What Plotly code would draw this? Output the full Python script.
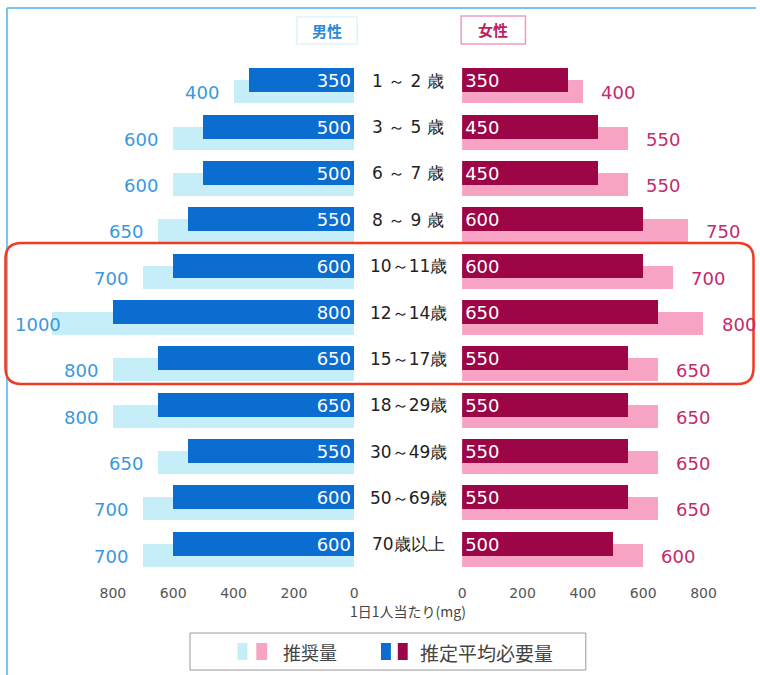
import plotly.graph_objects as go

ages = ["1 ～ 2 歳", "3 ～ 5 歳", "6 ～ 7 歳", "8 ～ 9 歳", "10～11歳", "12～14歳",
        "15～17歳", "18～29歳", "30～49歳", "50～69歳", "70歳以上"]
male_rec = [400, 600, 600, 650, 700, 1000, 800, 800, 650, 700, 700]
male_ear = [350, 500, 500, 550, 600, 800, 650, 650, 550, 600, 600]
female_rec = [400, 550, 550, 750, 700, 800, 650, 650, 650, 650, 600]
female_ear = [350, 450, 450, 600, 600, 650, 550, 550, 550, 550, 500]
tick_vals = [0, 200, 400, 600, 800]

W, H = 760, 675
MT, MB = 58, 98
PH = H - MT - MB
PX_PER = 0.305
L0 = 354
R0 = 463

C_LBLUE = "#c6eef8"
C_DBLUE = "#0a6dcf"
C_PINK = "#f7a3c4"
C_CRIM = "#9c0646"
C_TXT_M = "#3a98e0"
C_TXT_F = "#c42a6c"
FONT = "DejaVu Sans"
JFONT = "Noto Sans CJK JP"


def px(x):
    return x / W


def py(y):
    return (H - MB - y) / PH


fig = go.Figure()

common_light = dict(orientation="h", offset=-0.12, width=0.5, hoverinfo="skip", showlegend=False)
common_dark = dict(orientation="h", offset=-0.38, width=0.52, showlegend=False,
                   textposition="inside", insidetextanchor="start", constraintext="none",
                   textfont=dict(color="white", size=18, family=FONT))

fig.add_trace(go.Bar(x=male_rec, y=ages, marker=dict(color=C_LBLUE, line=dict(width=0)),
                     xaxis="x", yaxis="y", name="推奨量", **common_light))
fig.add_trace(go.Bar(x=male_ear, y=ages, marker=dict(color=C_DBLUE, line=dict(width=0)),
                     text=[str(v) for v in male_ear], xaxis="x", yaxis="y",
                     name="推定平均必要量", **common_dark))
fig.add_trace(go.Bar(x=female_rec, y=ages, marker=dict(color=C_PINK, line=dict(width=0)),
                     xaxis="x2", yaxis="y", name="推奨量", **common_light))
fig.add_trace(go.Bar(x=female_ear, y=ages, marker=dict(color=C_CRIM, line=dict(width=0)),
                     text=[str(v) for v in female_ear], xaxis="x2", yaxis="y",
                     name="推定平均必要量", **common_dark))

annotations = []
for i, a in enumerate(ages):
    annotations.append(dict(x=px((L0 + R0) / 2), xref="paper", y=a, yref="y", yshift=5,
                            text=a, showarrow=False, xanchor="center",
                            font=dict(size=17, color="#222222", family=FONT)))
    label = str(male_rec[i])
    lw = len(label) * 11.5
    right_edge = L0 - male_rec[i] * PX_PER - 13
    if right_edge - lw < 8:
        annotations.append(dict(x=px(9), xref="paper", y=a, yref="y", yshift=-7,
                                text=label, showarrow=False, xanchor="left",
                                font=dict(size=18, color=C_TXT_M, family=FONT)))
    else:
        annotations.append(dict(x=male_rec[i], xref="x", y=a, yref="y", yshift=-7, xshift=-13,
                                text=label, showarrow=False, xanchor="right",
                                font=dict(size=18, color=C_TXT_M, family=FONT)))
    annotations.append(dict(x=female_rec[i], xref="x2", y=a, yref="y", yshift=-7, xshift=16,
                            text=str(female_rec[i]), showarrow=False, xanchor="left",
                            font=dict(size=18, color=C_TXT_F, family=FONT)))

annotations.append(dict(x=px((L0 + R0) / 2), xref="paper", y=py(611), yref="paper",
                        text="1日1人当たり(mg)", showarrow=False, xanchor="center", yanchor="middle",
                        font=dict(size=14, color="#444444", family=JFONT)))
# headers
annotations.append(dict(x=px(326.5), xref="paper", y=py(30.5), yref="paper", text="<b>男性</b>",
                        showarrow=False, yanchor="middle",
                        font=dict(size=15, color="#2a8ad8", family=JFONT)))
annotations.append(dict(x=px(494.5), xref="paper", y=py(30), yref="paper", text="<b>女性</b>",
                        showarrow=False, yanchor="middle",
                        font=dict(size=15, color="#c0205a", family=JFONT)))
# legend text
annotations.append(dict(x=px(280), xref="paper", y=py(652), yref="paper", text="推奨量",
                        showarrow=False, xanchor="left", yanchor="middle",
                        font=dict(size=18, color="#444444", family=JFONT)))
annotations.append(dict(x=px(418), xref="paper", y=py(652), yref="paper", text="推定平均必要量",
                        showarrow=False, xanchor="left", yanchor="middle",
                        font=dict(size=19, color="#444444", family=JFONT)))


def pr(x0, y0, x1, y1, **kw):
    return dict(type="rect", xref="paper", yref="paper", x0=px(x0), x1=px(x1),
                y0=py(y0), y1=py(y1), **kw)


shapes = []
# outer frame lines
shapes.append(dict(type="line", xref="paper", yref="paper", x0=px(3), x1=1, y0=py(8), y1=py(8),
                   line=dict(color="#7cc3ee", width=2)))
shapes.append(dict(type="line", xref="paper", yref="paper", x0=px(3), x1=px(3), y0=py(H), y1=py(8),
                   line=dict(color="#7cc3ee", width=2)))
# header boxes
shapes.append(pr(296, 17, 357, 44, line=dict(color="#def3fa", width=1.5), fillcolor="rgba(0,0,0,0)"))
shapes.append(pr(462, 16, 527, 44, line=dict(color="#f29ac0", width=1.5), fillcolor="rgba(0,0,0,0)"))
# legend box and swatches
shapes.append(pr(188, 633, 588, 670, line=dict(color="#999999", width=1), fillcolor="rgba(0,0,0,0)"))
shapes.append(pr(236, 643, 246, 660, line=dict(width=0), fillcolor=C_LBLUE))
shapes.append(pr(255, 643, 266, 660, line=dict(width=0), fillcolor=C_PINK))
shapes.append(pr(381, 643, 391, 660, line=dict(width=0), fillcolor=C_DBLUE))
shapes.append(pr(398, 643, 408, 660, line=dict(width=0), fillcolor=C_CRIM))

# red rounded highlight box
x0, y0, x1, y1, r = 1.5, 243, 757.5, 384, 16
path = (f"M {px(x0 + r)},{py(y0)} L {px(x1 - r)},{py(y0)} "
        f"Q {px(x1)},{py(y0)} {px(x1)},{py(y0 + r)} L {px(x1)},{py(y1 - r)} "
        f"Q {px(x1)},{py(y1)} {px(x1 - r)},{py(y1)} L {px(x0 + r)},{py(y1)} "
        f"Q {px(x0)},{py(y1)} {px(x0)},{py(y1 - r)} L {px(x0)},{py(y0 + r)} "
        f"Q {px(x0)},{py(y0)} {px(x0 + r)},{py(y0)} Z")
shapes.append(dict(type="path", xref="paper", yref="paper", path=path,
                   line=dict(color="#ef3b24", width=2.5)))

fig.update_layout(
    width=W, height=H, paper_bgcolor="white", plot_bgcolor="rgba(0,0,0,0)",
    margin=dict(l=0, r=0, t=MT, b=MB),
    barmode="overlay", bargap=0,
    xaxis=dict(domain=[0, L0 / W], range=[L0 / PX_PER, 0], tickvals=tick_vals,
               showgrid=False, zeroline=False, showline=False, ticks="", ticklabelstandoff=6,
               tickfont=dict(size=14, color="#555555", family=FONT), anchor="y"),
    xaxis2=dict(domain=[R0 / W, 1], range=[0, (W - R0) / PX_PER], tickvals=tick_vals,
                showgrid=False, zeroline=False, showline=False, ticks="", ticklabelstandoff=6,
                tickfont=dict(size=14, color="#555555", family=FONT), anchor="y"),
    yaxis=dict(range=[10.6, -0.6], showticklabels=False, showgrid=False, zeroline=False,
               showline=False, ticks="", type="category"),
    annotations=annotations, shapes=shapes, showlegend=False,
)

fig.write_html("out.html")
